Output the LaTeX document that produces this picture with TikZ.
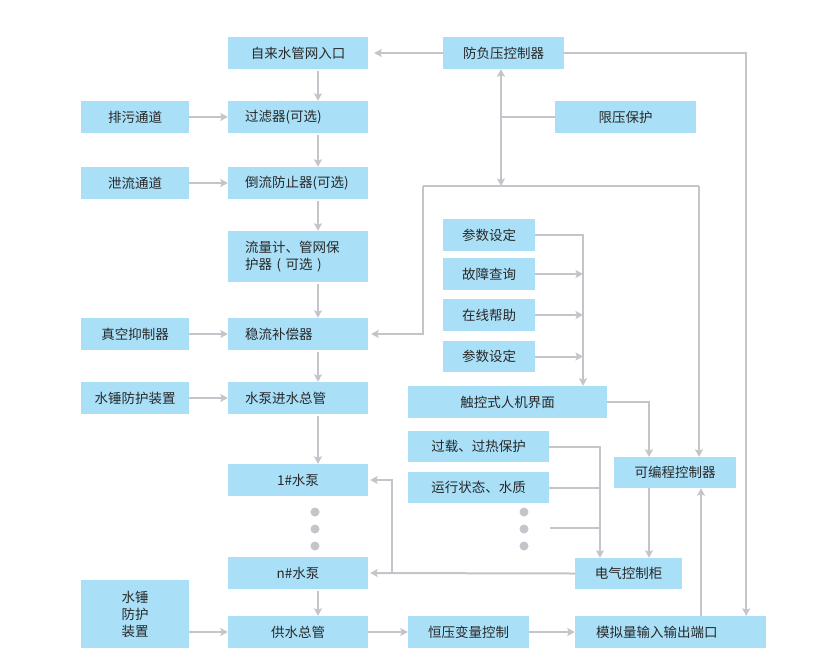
\documentclass[tikz,border=0pt]{standalone}
\usepackage{fontspec}
\usepackage{tikz}
\usetikzlibrary{arrows.meta}
\newfontfamily\cjk{Noto Sans CJK SC}
\definecolor{boxblue}{RGB}{169,224,248}
\definecolor{linegray}{RGB}{196,196,202}
\definecolor{txtgray}{RGB}{40,40,40}

\begin{document}
\begin{tikzpicture}[x=1pt,y=-1pt,
    box/.style={fill=boxblue,text=txtgray,minimum height=32pt,inner sep=0pt,align=center,
        font=\cjk\fontsize{13.5}{17}\selectfont},
    lbox/.style={box,inner xsep=17pt,text width=106pt,align=left},
    line/.style={draw=linegray,line width=2pt},
    arr/.style={line,-{Stealth[length=7.5pt,width=8pt,inset=1.5pt]}},
    darr/.style={line,{Stealth[length=7.5pt,width=8pt,inset=1.5pt]}-{Stealth[length=7.5pt,width=8pt,inset=1.5pt]}}]
    \useasboundingbox (0,0) rectangle (834,670);

    % main column
    \node[box,minimum width=140pt] (water) at (298,53) {自来水管网入口};
    \node[lbox] (filter) at (298,117) {过滤器(可选)};
    \node[lbox] (backflow) at (298,183) {倒流防止器(可选)};
    \node[lbox,minimum height=51pt] (meter) at (298,256.5) {流量计、管网保\\护器 ( 可选 )};
    \node[lbox] (surge) at (298,334) {稳流补偿器};
    \node[lbox] (inlet) at (298,398) {水泵进水总管};
    \node[box,minimum width=140pt] (pumpa) at (298,480) {1\#水泵};
    \node[box,minimum width=140pt] (pumpn) at (298,573) {n\#水泵};
    \node[box,minimum width=140pt] (supply) at (298,632) {供水总管};

    % left column
    \node[box,minimum width=108pt] (drain) at (135,117) {排污通道};
    \node[box,minimum width=108pt] (bleed) at (135,183) {泄流通道};
    \node[box,minimum width=108pt] (vacuum) at (135,334) {真空抑制器};
    \node[box,minimum width=108pt] (hammer) at (135,398) {水锤防护装置};
    \node[box,minimum width=108pt,minimum height=68pt] (hammerb) at (135,614) {水锤\\防护\\装置};

    % right part
    \node[box,minimum width=121pt] (antineg) at (503.5,53) {防负压控制器};
    \node[box,minimum width=141pt] (limit) at (625.5,117) {限压保护};
    \node[box,minimum width=92pt] (seta) at (489,235) {参数设定};
    \node[box,minimum width=92pt] (fault) at (489,274) {故障查询};
    \node[box,minimum width=92pt] (help) at (489,315) {在线帮助};
    \node[box,minimum width=92pt,minimum height=31pt] (setb) at (489,356.5) {参数设定};
    \node[box,minimum width=199pt] (touch) at (507.5,402) {触控式人机界面};
    \node[box,minimum width=141pt,minimum height=31pt] (overload) at (478.5,446.5) {过载、过热保护};
    \node[box,minimum width=141pt,minimum height=31pt] (status) at (478.5,487.5) {运行状态、水质};
    \node[box,minimum width=122pt,minimum height=31pt] (plc) at (675,472.5) {可编程控制器};
    \node[box,minimum width=107pt,minimum height=31pt] (cabinet) at (628.5,573.5) {电气控制柜};
    \node[box,minimum width=121pt] (constp) at (468.5,632) {恒压变量控制};
    \node[box,inner xsep=21pt,text width=149pt,align=left] (analog) at (670.5,632) {模拟量输入输出端口};

    % dots
    \foreach \y in {512,529,546} {
        \fill[linegray] (315,\y) circle (4.5pt);
        \fill[linegray] (524,\y) circle (4.5pt);
    }

    % helper points
    \coordinate (busl) at (423,186);
    \coordinate (busr) at (699,186);
    \coordinate (split) at (392,0);
    \coordinate (dotend) at (550,528);
    \coordinate (hmiin) at ([xshift=75.5pt]touch.north);
    \coordinate (plcin) at ([xshift=-26pt]plc.north);
    \coordinate (cabin) at ([xshift=-28.5pt]cabinet.north);
    \coordinate (anout) at ([xshift=30.5pt]analog.north);
    \coordinate (negin) at ([xshift=-20pt]analog.north east);

    % main flow
    \foreach \a/\b in {water/filter,filter/backflow,backflow/meter,meter/surge,surge/inlet,inlet/pumpa,pumpn/supply}
        \draw[arr,shorten <=2pt] ([xshift=20pt]\a.south) -- ([xshift=20pt]\b.north);
    \foreach \a/\b in {drain/filter,bleed/backflow,vacuum/surge,hammer/inlet}
        \draw[arr] (\a.east) -- (\b.west);
    \draw[arr] (supply.west -| hammerb.east) -- (supply.west);
    \draw[arr] (supply.east) -- (constp.west);
    \draw[arr] (constp.east) -- (analog.west);

    % pressure control
    \draw[arr,shorten >=6pt] (antineg.west) -- (water.east);
    \draw[arr] (antineg.east) -| (negin);
    \draw[darr] ([xshift=-2.5pt]antineg.south) -- (busl -| 501,0);
    \draw[line] (limit.west) -- (limit.west -| 501,0);
    \draw[line] (busl) -- (busr);
    \draw[arr,shorten >=3pt] (busl) |- (surge.east);
    \draw[arr] (busr) -- (busr |- plc.north);

    % touch panel
    \draw[arr] (seta.east) -| (hmiin);
    \foreach \n in {fault,help,setb}
        \draw[arr] (\n.east) -- (\n.east -| hmiin);
    \draw[arr] (touch.east) -| (plcin);

    % controller and cabinet
    \draw[arr] (plcin |- plc.south) -- (plcin |- cabinet.north);
    \draw[arr] (anout) -- (anout |- plc.south);
    \draw[arr] (overload.east) -| (cabin);
    \draw[line] (status.east) -- (status.east -| cabin);
    \draw[line] (dotend) -- (dotend -| cabin);
    \draw[arr,shorten >=2pt] (cabinet.west) -- (pumpn.east);
    \draw[arr,shorten >=2pt] (cabinet.west -| split) |- (pumpa.east);
\end{tikzpicture}
\end{document}
